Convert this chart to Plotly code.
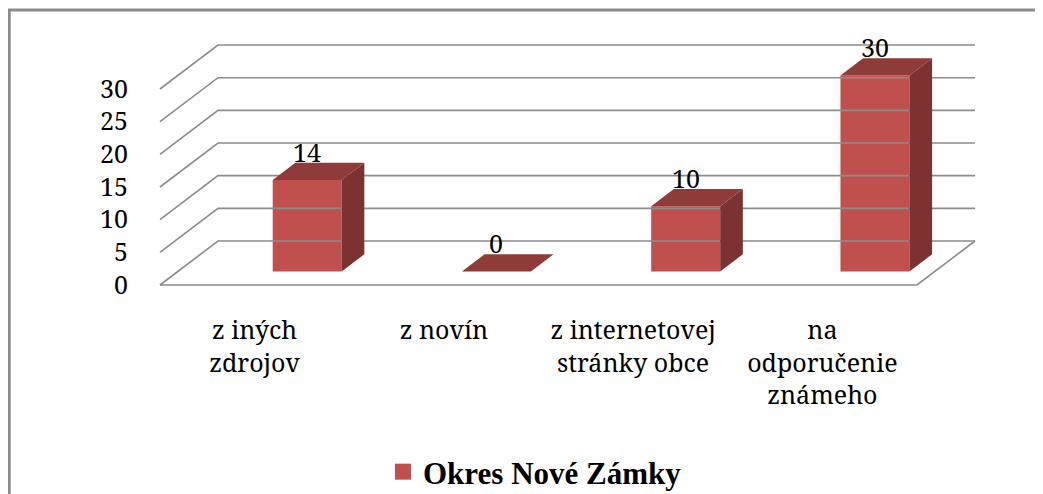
import plotly.graph_objects as go

# ---- data ----
categories = ["z iných<br>zdrojov", "z novín", "z internetovej<br>stránky obce", "na<br>odporučenie<br>známeho"]
values = [14, 0, 10, 30]
series_name = "Okres Nové Zámky"
y_ticks = [0, 5, 10, 15, 20, 25, 30]

# ---- styling / projection constants ----
FRONT = "#C0504D"
TOP = "#8F3B39"
SIDE = "#7C3230"
GRID = "#8C8C8C"
FONT = "Noto Serif"
LEG_FONT = "Liberation Serif"
FS = 25

DX, DY = 0.3065, 6.735          # floor depth expressed in axis units
FLOOR = (-0.5, 3.5)
BAR_OFF, BAR_HW = 0.278, 0.1823  # bar front face centre offset and half width
BAR_BASE = 2.07                  # lift of bar base (bar sits inside the floor depth)
BAR_DX, BAR_DY = 0.1195, 2.63    # bar depth

# page has an 8px body margin: figure is placed at (8, 8)
OFF = 8
PW, PH = 1043, 494
W, H = PW - OFF, PH - OFF
PL, PR, PT, PB = 140, 1000, 20, 300        # plot area in page pixels
L, R, T, B = PL - OFF, PW - PR, PT - OFF, PH - PB
PX_X = 189.25
PX_Y = 6.533
x_range = [(PL - 254.6) / PX_X, (PR - 254.6) / PX_X]
y_range = [-(PB - 285) / PX_Y, (285 - PT) / PX_Y]


def paper_x(px):
    return (px - PL) / (PR - PL)


def paper_y(py):
    return (PB - py) / (PB - PT)


fig = go.Figure()

# walls / gridlines
gx, gy = [], []
for t in y_ticks:
    gx += [FLOOR[0], FLOOR[0] + DX, FLOOR[1] + DX, None]
    gy += [t, t + DY, t + DY, None]
gx += [FLOOR[0], FLOOR[1], FLOOR[1] + DX]
gy += [0, 0, DY]
fig.add_trace(go.Scatter(x=gx, y=gy, mode="lines", line=dict(color=GRID, width=1.6),
                         hoverinfo="skip", showlegend=False))

# 3D bars: front faces as bars, top/side faces as polygons
xs = [i + BAR_OFF for i in range(len(values))]
fig.add_trace(go.Bar(x=xs, y=values, base=BAR_BASE, width=2 * BAR_HW,
                     marker=dict(color=FRONT, line=dict(width=0)), showlegend=False))

tx, ty, sx, sy = [], [], [], []
for xc, v in zip(xs, values):
    xl, xr = xc - BAR_HW, xc + BAR_HW
    top = v + BAR_BASE
    tx += [xl, xr, xr + BAR_DX, xl + BAR_DX, xl, None]
    ty += [top, top, top + BAR_DY, top + BAR_DY, top, None]
    if v > 0:
        sx += [xr, xr, xr + BAR_DX, xr + BAR_DX, xr, None]
        sy += [BAR_BASE, top, top + BAR_DY, BAR_BASE + BAR_DY, BAR_BASE, None]
fig.add_trace(go.Scatter(x=sx, y=sy, mode="lines", fill="toself", fillcolor=SIDE,
                         line=dict(width=0, color=SIDE), hoverinfo="skip", showlegend=False))
fig.add_trace(go.Scatter(x=tx, y=ty, mode="lines", fill="toself", fillcolor=TOP,
                         line=dict(width=0, color=TOP), hoverinfo="skip", showlegend=False))

# legend entry
fig.add_trace(go.Scatter(x=[None], y=[None], mode="markers", name=series_name,
                         marker=dict(symbol="square", size=16, color=FRONT)))

# data labels
for xc, v in zip(xs, values):
    fig.add_annotation(x=xc, y=v + BAR_BASE, text=str(v), showarrow=False,
                       yanchor="middle", yshift=28,
                       font=dict(family=FONT, size=FS, color="black"))

# frame
fig.add_shape(type="rect", xref="paper", yref="paper",
              x0=paper_x(9.2), x1=paper_x(PW + 20),
              y0=paper_y(PH + 30), y1=paper_y(10),
              line=dict(color=GRID, width=3), fillcolor="rgba(0,0,0,0)")

fig.update_layout(
    width=W, height=H,
    margin=dict(l=L, r=R, t=T, b=B, autoexpand=False),
    paper_bgcolor="white", plot_bgcolor="white",
    font=dict(family=FONT, size=FS, color="black"),
    showlegend=True,
    legend=dict(xref="container", yref="container",
                x=(383 - OFF) / W, y=(PH - 472) / H,
                xanchor="left", yanchor="middle", orientation="h",
                bgcolor="rgba(0,0,0,0)",
                font=dict(family=LEG_FONT, size=31, color="black", weight="bold")),
    xaxis=dict(range=x_range, tickvals=list(range(len(categories))), ticktext=categories,
               showgrid=False, zeroline=False, showline=False, automargin=False,
               ticks="outside", ticklen=8, tickcolor="rgba(0,0,0,0)",
               tickfont=dict(family=FONT, size=FS)),
    yaxis=dict(range=y_range, tickvals=y_ticks, showgrid=False, zeroline=False, showline=False,
               automargin=False,
               ticks="outside", ticklen=6, tickcolor="rgba(0,0,0,0)",
               tickfont=dict(family=FONT, size=FS)),
)

fig.write_html("out.html")
